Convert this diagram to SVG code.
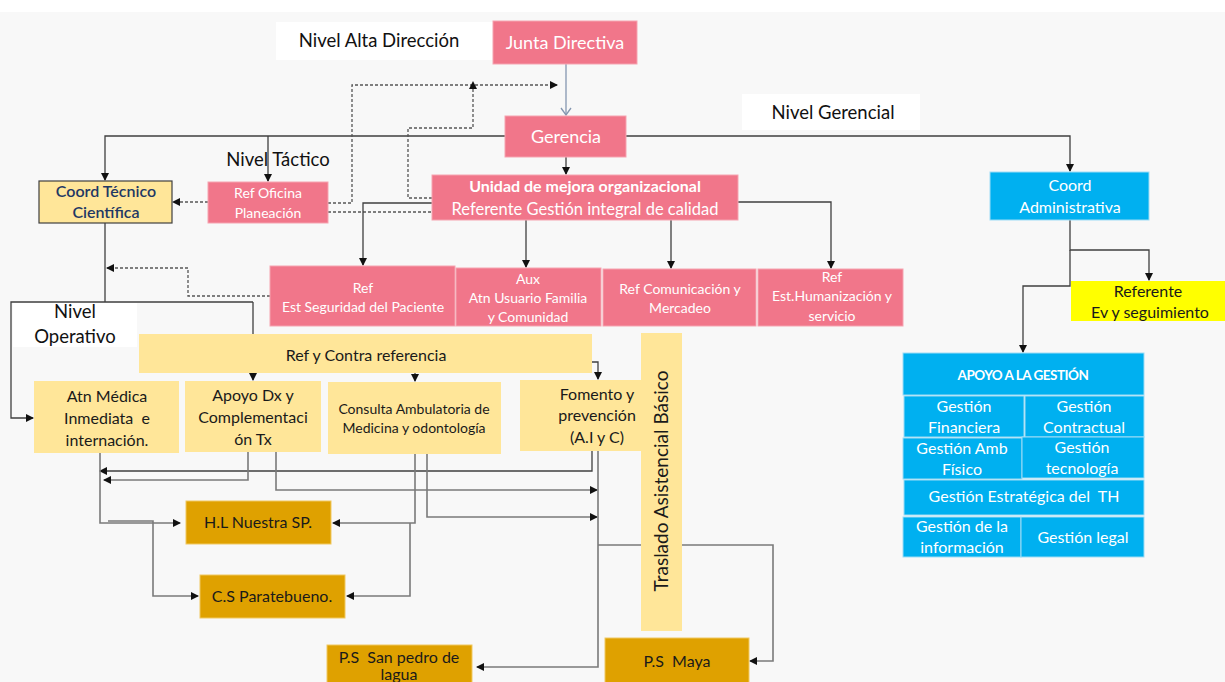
<svg xmlns="http://www.w3.org/2000/svg" width="1225" height="682" viewBox="0 0 1225 682">
<style>
text{font-family:Lato,"Open Sans","Liberation Sans",sans-serif;text-anchor:middle}
.pk{fill:#f1768a;stroke:#f5a3b0;stroke-width:1}
.ly{fill:#ffe699}
.gd{fill:#dfa100;stroke:#f0c860;stroke-width:1}
.bl{fill:#00b0f0;stroke:#9ddcf5;stroke-width:1}
.w{fill:#ffffff}
.wt{fill:#ffffff;font-size:14px}
.dk{fill:#1a1a1a;font-size:16px}
.lv{fill:#111111;font-size:18.5px}
.ln{fill:none;stroke:#3f3f3f;stroke-width:1.3}
.lg{fill:none;stroke:#7a7a7a;stroke-width:1.6}
.ds{fill:none;stroke:#555;stroke-width:1.3;stroke-dasharray:3 2}
</style>
<defs>
<marker id="a" markerWidth="8" markerHeight="8" refX="7" refY="4" orient="auto" markerUnits="userSpaceOnUse"><path d="M0,0 L8,4 L0,8 z" fill="#111"/></marker>
<marker id="o" markerWidth="12" markerHeight="12" refX="6" refY="11" orient="0" markerUnits="userSpaceOnUse"><path d="M1,4 L6,11 L11,4" fill="none" stroke="#8496b0" stroke-width="1.3"/></marker>
</defs>
<rect width="1225" height="682" fill="#f8f8f8"/>
<rect x="0" y="0" width="1225" height="12" fill="#ffffff"/>
<g id="labels">
<rect x="276" y="22" width="218" height="38" class="w"/>
<text x="379" y="47" class="lv">Nivel Alta Dirección</text>
<rect x="742" y="94" width="178" height="36" class="w"/>
<text x="833" y="119" class="lv">Nivel Gerencial</text>
<text x="278" y="166" class="lv">Nivel Táctico</text>
<rect x="13" y="303" width="124" height="44" class="w"/>
<text x="75" y="318" class="lv">Nivel</text>
<text x="75" y="343" class="lv">Operativo</text>
</g>
<g id="connectors">
<line x1="566" y1="64" x2="566" y2="115" stroke="#8496b0" stroke-width="1.3" marker-end="url(#o)"/>
<polyline class="ln" points="505,136 105,136 105,180" marker-end="url(#a)"/>
<polyline class="ln" points="268,136 268,181" marker-end="url(#a)"/>
<polyline class="ln" points="626,136 1070,136 1070,171" marker-end="url(#a)"/>
<polyline class="ln" points="566,157 566,174" marker-end="url(#a)"/>
<polyline class="ds" points="208,202 173,202" marker-end="url(#a)"/>
<polyline class="ds" points="328,203 352,203 352,85 557,85" marker-end="url(#a)"/>
<polyline class="ds" points="432,198 408,198 408,128 473,128 473,82" marker-end="url(#a)"/>
<polyline class="ds" points="328,212 432,212"/>
<polyline class="ln" points="432,203 363,203 363,265" marker-end="url(#a)"/>
<polyline class="ln" points="526,220 526,267" marker-end="url(#a)"/>
<polyline class="ln" points="671,220 671,268" marker-end="url(#a)"/>
<polyline class="ln" points="738,202 831,202 831,268" marker-end="url(#a)"/>
<polyline class="ln" points="1070,220 1070,250 1149,250 1149,280" marker-end="url(#a)"/>
<polyline class="ln" points="1070,250 1070,286 1023,286 1023,352" marker-end="url(#a)"/>
<polyline class="ds" points="270,296 188,296 188,268 107,268" marker-end="url(#a)"/>
<polyline class="ln" points="105,223 105,302"/>
<polyline class="ln" points="253,302 11,302 11,418 33,418" marker-end="url(#a)"/>
<polyline class="ln" points="253,302 253,380" marker-end="url(#a)"/>
<polyline class="ln" points="253,339 415,339 415,381" marker-end="url(#a)"/>
<polyline class="ln" points="421,362 598,362 598,379" marker-end="url(#a)"/>
<polyline class="ln" points="592,451 592,471 100,471" marker-end="url(#a)"/>
<polyline class="lg" points="248,452 248,480 104,480" marker-end="url(#a)"/>
<polyline class="lg" points="276,445 276,490 597,490" marker-end="url(#a)"/>
<polyline class="lg" points="427,454 427,517 597,517" marker-end="url(#a)"/>
<polyline class="lg" points="100,453 100,523 180,523" marker-end="url(#a)"/>
<polyline class="lg" points="108,521 153,521 153,596 198,596" marker-end="url(#a)"/>
<polyline class="lg" points="415,454 415,523 333,523" marker-end="url(#a)"/>
<polyline class="lg" points="410,523 410,596 347,596" marker-end="url(#a)"/>
<polyline class="lg" points="598,451 598,667 477,667" marker-end="url(#a)"/>
<polyline class="lg" points="598,545 773,545 773,661 750,661" marker-end="url(#a)"/>
</g>
<g id="junta"><rect x="493" y="21" width="144" height="43" class="pk"/><text x="565" y="49" class="wt" style="font-size:18px">Junta Directiva</text></g>
<g id="gerencia"><rect x="505" y="116" width="121" height="41" class="pk"/><text x="566" y="143" class="wt" style="font-size:18px">Gerencia</text></g>
<g id="coord-tecnico"><rect x="39" y="181" width="133" height="42" fill="#ffe699" stroke="#404040" stroke-width="1.2"/><text x="106" y="197" style="font-size:16px;font-weight:600;fill:#1f3864">Coord Técnico</text><text x="106" y="218" style="font-size:16px;font-weight:600;fill:#1f3864">Científica</text></g>
<g id="ref-oficina"><rect x="208" y="182" width="120" height="41" class="pk"/><text x="268" y="198" class="wt">Ref Oficina</text><text x="268" y="218" class="wt">Planeación</text></g>
<g id="unidad"><rect x="432" y="175" width="306" height="45" class="pk"/><text x="585" y="192" class="wt" style="font-size:16px;font-weight:bold">Unidad de mejora organizacional</text><text x="585" y="215" class="wt" style="font-size:16.5px">Referente Gestión integral de calidad</text></g>
<g id="ref-seg"><rect x="270" y="266" width="185" height="60" class="pk"/><text x="363" y="293" class="wt">Ref</text><text x="363" y="312" class="wt">Est Seguridad del Paciente</text></g>
<g id="aux"><rect x="456" y="268" width="145" height="58" class="pk"/><text x="528" y="284" class="wt">Aux</text><text x="528" y="303" class="wt">Atn Usuario Familia</text><text x="528" y="322" class="wt">y Comunidad</text></g>
<g id="ref-com"><rect x="603" y="269" width="153" height="57" class="pk"/><text x="680" y="294" class="wt">Ref Comunicación y</text><text x="680" y="313" class="wt">Mercadeo</text></g>
<g id="ref-hum"><rect x="758" y="269" width="145" height="57" class="pk"/><text x="832" y="282" class="wt">Ref</text><text x="832" y="301" class="wt">Est.Humanización y</text><text x="832" y="321" class="wt">servicio</text></g>
<g id="coord-admin"><rect x="990" y="172" width="159" height="48" class="bl"/><text x="1070" y="191" class="wt" style="font-size:16px">Coord</text><text x="1070" y="213" class="wt" style="font-size:16px">Administrativa</text></g>
<g id="referente"><rect x="1071" y="281" width="155" height="40" fill="#ffff00"/><text x="1148" y="297" class="dk">Referente</text><text x="1150" y="318" class="dk">Ev y seguimiento</text></g>
<g id="apoyo-gestion">
<rect x="903" y="353" width="241" height="42" class="bl"/><text x="1023" y="380" class="wt" style="font-size:13.5px;font-weight:bold;letter-spacing:-0.5px">APOYO A LA GESTIÓN</text>
<rect x="904" y="396" width="120" height="41" class="bl"/><text x="964" y="412" class="wt" style="font-size:16px">Gestión</text><text x="964" y="433" class="wt" style="font-size:16px">Financiera</text>
<rect x="1025" y="396" width="119" height="41" class="bl"/><text x="1084" y="412" class="wt" style="font-size:16px">Gestión</text><text x="1084" y="433" class="wt" style="font-size:16px">Contractual</text>
<rect x="903" y="438" width="119" height="41" class="bl"/><text x="962" y="454" class="wt" style="font-size:16px">Gestión Amb</text><text x="962" y="475" class="wt" style="font-size:16px">Físico</text>
<rect x="1022" y="437" width="122" height="41" class="bl"/><text x="1082" y="453" class="wt" style="font-size:16px">Gestión</text><text x="1082" y="474" class="wt" style="font-size:16px">tecnología</text>
<rect x="904" y="480" width="240" height="35" class="bl"/><text x="1024" y="502" class="wt" style="font-size:16px" xml:space="preserve">Gestión Estratégica del  TH</text>
<rect x="903" y="517" width="118" height="40" class="bl"/><text x="962" y="532" class="wt" style="font-size:16px">Gestión de la</text><text x="962" y="553" class="wt" style="font-size:16px">información</text>
<rect x="1021" y="517" width="123" height="40" class="bl"/><text x="1083" y="543" class="wt" style="font-size:16px">Gestión legal</text>
</g>
<g id="ref-contra"><rect x="139" y="334" width="453" height="39" class="ly"/><text x="366" y="361" class="dk">Ref y Contra referencia</text></g>
<g id="atn-medica"><rect x="34" y="381" width="145" height="72" class="ly"/><text x="107" y="402" class="dk">Atn Médica</text><text x="107" y="424" class="dk" xml:space="preserve">Inmediata  e</text><text x="107" y="446" class="dk">internación.</text></g>
<g id="apoyo-dx"><rect x="185" y="381" width="136" height="71" class="ly"/><text x="253" y="401" class="dk">Apoyo Dx y</text><text x="253" y="423" class="dk">Complementaci</text><text x="253" y="445" class="dk">ón Tx</text></g>
<g id="consulta"><rect x="328" y="382" width="173" height="72" class="ly"/><text x="414" y="414" class="dk" style="font-size:14px">Consulta Ambulatoria de</text><text x="414" y="433" class="dk" style="font-size:14px">Medicina y odontología</text></g>
<g id="fomento"><rect x="520" y="380" width="121" height="71" class="ly"/><text x="597" y="400" class="dk">Fomento y</text><text x="597" y="421" class="dk">prevención</text><text x="597" y="443" class="dk">(A.I y C)</text></g>
<g id="traslado"><rect x="641" y="333" width="41" height="298" class="ly"/><text x="0" y="0" class="dk" style="font-size:19px" transform="translate(668,481) rotate(-90)">Traslado Asistencial Básico</text></g>
<g id="hl"><rect x="186" y="501" width="145" height="43" class="gd"/><text x="258" y="528" class="dk">H.L Nuestra SP.</text></g>
<g id="cs"><rect x="200" y="575" width="145" height="43" class="gd"/><text x="272" y="602" class="dk">C.S Paratebueno.</text></g>
<g id="ps-san-pedro"><rect x="327" y="645" width="145" height="45" class="gd"/><text x="399" y="663" class="dk" xml:space="preserve">P.S  San pedro de</text><text x="399" y="680" class="dk">lagua</text></g>
<g id="ps-maya"><rect x="605" y="638" width="144" height="50" class="gd"/><text x="677" y="667" class="dk" xml:space="preserve">P.S  Maya</text></g>
</svg>
